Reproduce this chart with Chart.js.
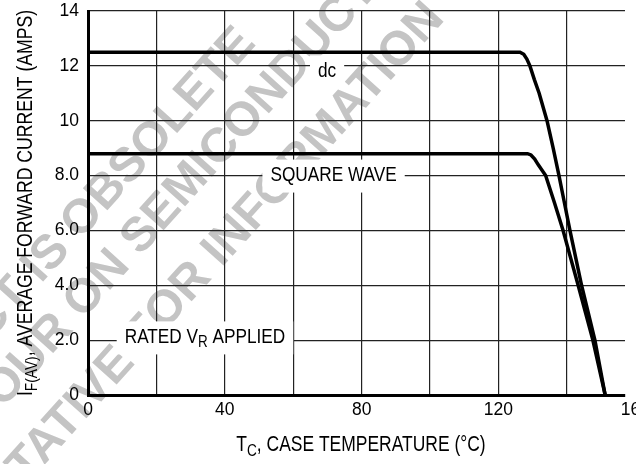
<!DOCTYPE html>
<html>
<head>
<meta charset="utf-8">
<script src="https://cdn.jsdelivr.net/npm/chart.js@4.4.1/dist/chart.umd.min.js"></script>
<style>
  html, body { margin: 0; padding: 0; background: #fff; overflow: hidden; }
</style>
</head>
<body>
<canvas id="derating" width="665" height="464"></canvas>
<script>
// current derating, dc and square wave
const dcTemp = [0, 126.3, 127.4, 128.3, 129.2, 130.5, 131.9, 134.2, 136.0, 137.7, 139.3, 140.9, 144.3, 148.2, 151.2];
const dcAmps = [12.5, 12.5, 12.42, 12.25, 12.0, 11.5, 11.0, 10.0, 9.0, 8.0, 7.0, 6.0, 4.0, 2.0, 0];
const squareTemp = [0, 128.5, 129.5, 130.6, 131.6, 133.8, 136.4, 138.9, 143.3, 147.6, 151.2];
const squareAmps = [8.8, 8.8, 8.75, 8.6, 8.4, 8.0, 7.0, 6.0, 4.0, 2.0, 0];

const tempTicks = [0, 20, 40, 60, 80, 100, 120, 140, 160];
const tempLabels = ['0', '', '40', '', '80', '', '120', '', '160'];
const ampTicks = [0, 2, 4, 6, 8, 10, 12, 14];
const ampLabels = ['0', '2.0', '4.0', '6.0', '8.0', '10', '12', '14'];

const FONT = '"Liberation Sans", Arial, Helvetica, sans-serif';
const NARROW = 0.82;    // squeeze for the condensed lettering of titles and notes
const TEMP_MAX = 157;   // plot is cut just short of 160

Chart.defaults.font.family = FONT;
Chart.defaults.font.size = 17.5;
Chart.defaults.color = '#000';

const toXY = (xs, ys) => xs.map((x, i) => ({ x: x, y: ys[i] }));

// condensed text with subscripts: parts = [{t, sub}]
function richWidth(ctx, parts, size) {
  let w = 0;
  parts.forEach(p => {
    ctx.font = (p.sub ? size * 0.78 : size) + 'px ' + FONT;
    w += ctx.measureText(p.t).width;
  });
  return w * NARROW;
}
function drawRich(ctx, parts, x, y, size) {
  ctx.save();
  ctx.translate(x, y);
  ctx.scale(NARROW, 1);
  let cx = 0;
  parts.forEach(p => {
    ctx.font = (p.sub ? size * 0.78 : size) + 'px ' + FONT;
    ctx.fillText(p.t, cx, p.sub ? size * 0.22 : 0);
    cx += ctx.measureText(p.t).width;
  });
  ctx.restore();
}

// grey "obsolete" stamp behind the graph
const stamp = [
  { text: 'PRODUCT IS OBSOLETE', word: 'OBSOLETE', x: 80, y: 215 },
  { text: 'CONTACT YOUR ON SEMICONDUCTOR', word: 'SEMICONDUCTOR', x: 138, y: 233 },
  { text: 'REPRESENTATIVE FOR INFORMATION', word: 'ATION', x: 347, y: 103 },
];
const stampPlugin = {
  id: 'stamp',
  beforeDraw(chart) {
    const ctx = chart.ctx;
    ctx.save();
    ctx.fillStyle = '#fff';
    ctx.fillRect(0, 0, chart.width, chart.height);
    ctx.fillStyle = '#c4c4c4';
    ctx.font = 'bold 48px ' + FONT;
    ctx.textBaseline = 'alphabetic';
    stamp.forEach(s => {
      const idx = s.text.lastIndexOf(s.word);
      const off = ctx.measureText(s.text.slice(0, idx)).width + ctx.measureText(s.word[0]).width / 2;
      ctx.save();
      ctx.translate(s.x, s.y);
      ctx.rotate(-48 * Math.PI / 180);
      ctx.fillText(s.text, -off, 48 * 0.36);
      ctx.restore();
    });
    ctx.restore();
  }
};

// curve names and test condition, on white boxes over the grid
const notes = [
  { parts: [{ t: 'dc' }], x: 69.9, y: 11.8 },
  { parts: [{ t: 'SQUARE WAVE' }], x: 71.8, y: 8.0 },
  { parts: [{ t: 'RATED V' }, { t: 'R', sub: true }, { t: ' APPLIED' }], x: 34.2, y: 2.1 },
];
const notePlugin = {
  id: 'notes',
  afterDatasetsDraw(chart) {
    const ctx = chart.ctx;
    const xs = chart.scales.x, ys = chart.scales.y;
    ctx.save();
    ctx.textBaseline = 'middle';
    notes.forEach(n => {
      const w = richWidth(ctx, n.parts, 21);
      const cx = xs.getPixelForValue(n.x), cy = ys.getPixelForValue(n.y);
      ctx.fillStyle = '#fff';
      ctx.fillRect(cx - w / 2 - 8, cy - 16, w + 16, 33);
      ctx.fillStyle = '#000';
      drawRich(ctx, n.parts, cx - w / 2, cy, 21);
    });
    ctx.restore();
  }
};

// axis titles drawn by hand for the subscripts
const titlePlugin = {
  id: 'titles',
  afterDraw(chart) {
    const ctx = chart.ctx;
    const area = chart.chartArea;
    ctx.save();
    ctx.fillStyle = '#000';
    ctx.textBaseline = 'alphabetic';
    const xt = [{ t: 'T' }, { t: 'C', sub: true }, { t: ', CASE TEMPERATURE (°C)' }];
    const xw = richWidth(ctx, xt, 21.3);
    drawRich(ctx, xt, 361 - xw / 2, 451, 21.3);

    const yt = [{ t: 'I' }, { t: 'F(AV)', sub: true }, { t: ', AVERAGE FORWARD CURRENT (AMPS)' }];
    const yw = richWidth(ctx, yt, 21.5);
    ctx.translate(32, (area.top + area.bottom) / 2);
    ctx.rotate(-Math.PI / 2);
    drawRich(ctx, yt, -yw / 2, 0, 21.5);
    ctx.restore();
  }
};

const lineStyle = {
  borderColor: '#000',
  borderWidth: 3.5,
  pointRadius: 0,
  showLine: true,
  fill: false,
  tension: 0
};

new Chart(document.getElementById('derating'), {
  type: 'scatter',
  data: {
    datasets: [
      Object.assign({ label: 'dc', data: toXY(dcTemp, dcAmps) }, lineStyle),
      Object.assign({ label: 'square wave', data: toXY(squareTemp, squareAmps) }, lineStyle)
    ]
  },
  options: {
    responsive: false,
    animation: false,
    layout: { padding: { left: 0, top: 11, right: 40, bottom: 0 } },
    plugins: { legend: { display: false }, tooltip: { enabled: false } },
    scales: {
      x: {
        type: 'linear',
        min: 0,
        max: TEMP_MAX,
        afterBuildTicks: s => { s.ticks = tempTicks.map(v => ({ value: v })); },
        afterFit: s => { s.height = 69; },
        ticks: {
          autoSkip: false,
          maxRotation: 0,
          padding: 5,
          callback: (v) => tempLabels[tempTicks.indexOf(v)]
        },
        grid: {
          drawTicks: false,
          lineWidth: 1.2,
          color: c => (c.tick && c.tick.value > TEMP_MAX) ? 'rgba(0,0,0,0)' : '#222'
        },
        border: { display: true, color: '#000', width: 3 }
      },
      y: {
        min: 0,
        max: 14,
        afterBuildTicks: s => { s.ticks = ampTicks.map(v => ({ value: v })); },
        afterFit: s => { s.width = 88; s.paddingTop = 0; s.paddingBottom = 0; },
        ticks: {
          autoSkip: false,
          padding: 9,
          callback: (v) => ampLabels[ampTicks.indexOf(v)]
        },
        grid: { drawTicks: false, lineWidth: 1.2, color: '#222' },
        border: { display: true, color: '#000', width: 3 }
      }
    }
  },
  plugins: [stampPlugin, notePlugin, titlePlugin]
});
</script>
</body>
</html>
